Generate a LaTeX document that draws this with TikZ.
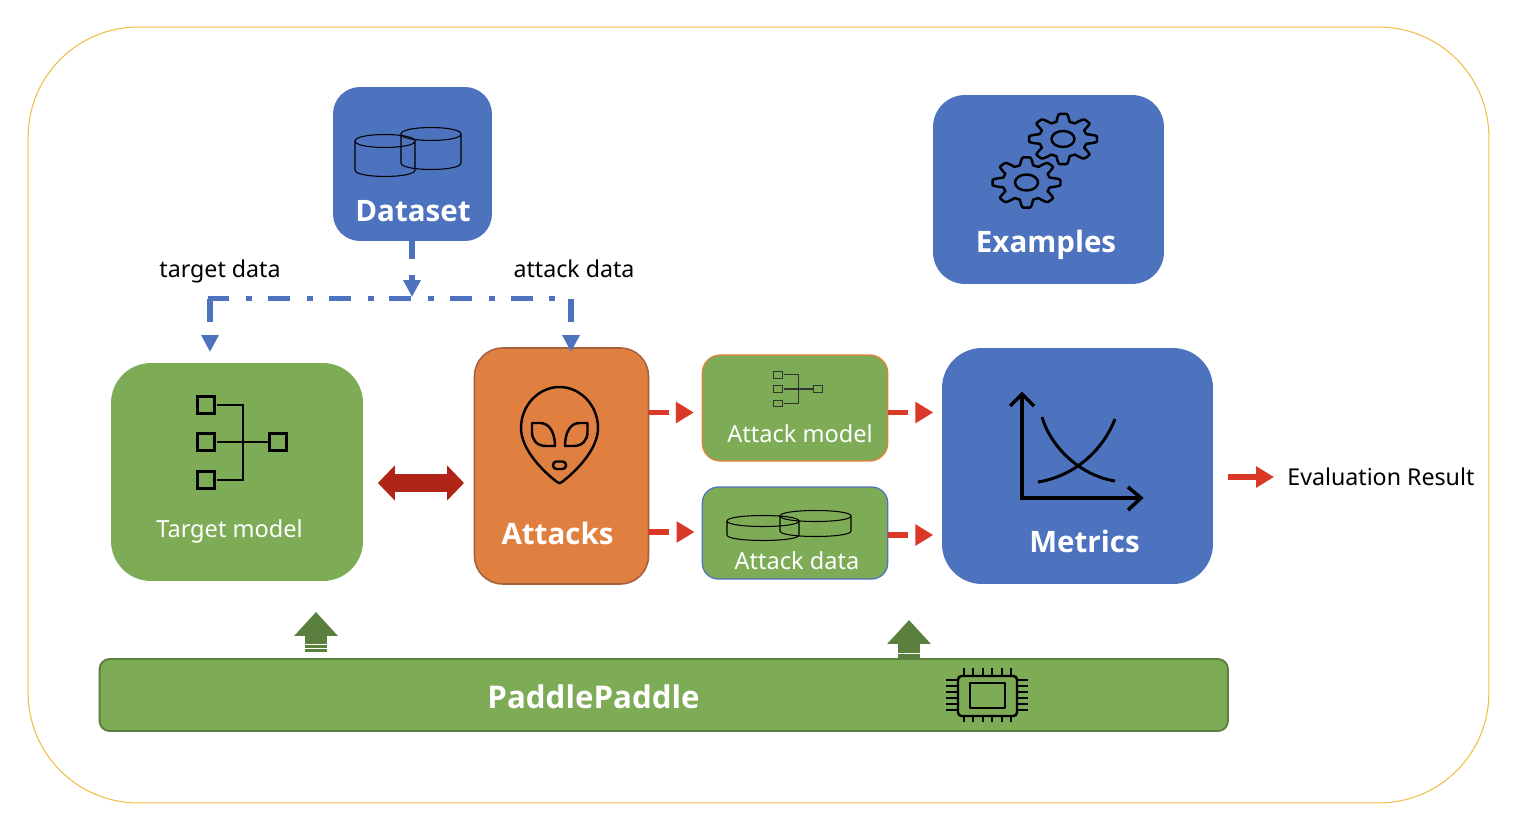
\documentclass[tikz,border=0pt]{standalone}
\usepackage{fontspec}
\setmainfont{Noto Sans}
\newfontfamily\headfont{Open Sans}
\usetikzlibrary{arrows.meta, positioning}
\definecolor{framecolor}{RGB}{240,190,70}
\definecolor{bluebox}{RGB}{77,114,190}
\definecolor{greenbox}{RGB}{126,171,85}
\definecolor{greenline}{RGB}{91,127,60}
\definecolor{orangebox}{RGB}{224,128,64}
\definecolor{orangeline}{RGB}{165,98,58}
\definecolor{flowred}{RGB}{217,57,38}
\definecolor{linkred}{RGB}{176,36,24}
% one drum: centre x, top y, half width, half height, depth
\newcommand{\drum}[5]{
    \draw[drumline] (#1-#3,#2) .. controls (#1-#3,#2+1.33*#4) and (#1+#3,#2+1.33*#4) .. (#1+#3,#2)
        .. controls (#1+#3,#2-1.33*#4) and (#1-#3,#2-1.33*#4) .. (#1-#3,#2) -- (#1-#3,#2+#5)
        .. controls (#1-#3,#2+#5+1.33*#4) and (#1+#3,#2+#5+1.33*#4) .. (#1+#3,#2+#5) -- (#1+#3,#2);
}
\tikzset{
    pics/treeicon/.style={code={
        \foreach \sx/\sy in {-36/-37, -36/0, -36/38, 36/0}
            \draw (\sx-8.5,\sy-8.5) rectangle (\sx+8.5,\sy+8.5);
        \draw (-25,-37) -- (1,-37) -- (1,38) -- (-25,38);
        \draw (-25,0) -- (26,0);
    }},
    pics/gearicon/.style={code={
        \draw[iconline] plot[domain=0:360, samples=193, smooth] ({(29+5*max(-1,min(1,1.7*cos(8*\x))))*cos(\x)}, {0.74*(29+5*max(-1,min(1,1.7*cos(8*\x))))*sin(\x)}) -- cycle;
        \draw[iconline] (0,0) ellipse [x radius=11.5, y radius=8];
    }}
}

\begin{document}
\begin{tikzpicture}[
    x=0.02cm, y=-0.02cm,
    box/.style={rounded corners=#1, inner sep=0pt, outer sep=0pt},
    bigtext/.style={text=white, font=\headfont\bfseries\fontsize{16.8}{20}\selectfont, inner sep=0pt},
    smalltext/.style={text=white, font=\fontsize{13.4}{16}\selectfont, inner sep=0pt},
    blacktext/.style={text=black, font=\fontsize{13.2}{16}\selectfont, inner sep=0pt},
    iconline/.style={draw=black, line width=1.4pt, line join=round},
    drumline/.style={draw=black, line width=0.6pt},
    blueflow/.style={draw=bluebox, line width=3pt, -{Triangle[length=9.6pt, width=9.4pt]}},
    redflow/.style={draw=flowred, line width=3.1pt, -{Triangle[length=10.2pt, width=11.6pt]}},
    greenflow/.style={draw=greenline, line width=12.4pt, -{Triangle[length=13.6pt, width=24pt]}}
]
    \useasboundingbox (0,0) rectangle (1520,824);

    % Frame
    \node[box=2.2cm, draw=framecolor, line width=0.6pt, minimum width=29.22cm, minimum height=15.52cm] (frame) at (758.5,415) {};

    % Blue boxes
    \node[box=0.54cm, fill=bluebox, minimum width=3.18cm, minimum height=3.08cm] (dataset) at (412.5,164) {};
    \node[box=0.64cm, fill=bluebox, minimum width=4.62cm, minimum height=3.78cm] (examples) at (1048.5,189.5) {};
    \node[box=0.8cm, fill=bluebox, minimum width=5.42cm, minimum height=4.72cm] (metrics) at (1077.5,466) {};

    % Models and attacks
    \node[box=0.8cm, fill=greenbox, minimum width=5.04cm, minimum height=4.36cm] (target) at (237,472) {};
    \node[box=0.56cm, fill=orangebox, draw=orangeline, line width=0.9pt, minimum width=3.48cm, minimum height=4.72cm] (attacks) at (561.5,466) {};
    \node[box=0.36cm, fill=greenbox, draw=orangebox, line width=0.7pt, minimum width=3.71cm, minimum height=2.12cm] (attackmodel) at (795,408) {};
    \node[box=0.32cm, fill=greenbox, draw=bluebox, line width=0.7pt, minimum width=3.71cm, minimum height=1.84cm] (attackdata) at (795,533) {};
    \node[box=0.2cm, fill=greenbox, draw=greenline, line width=1.1pt, minimum width=22.57cm, minimum height=1.44cm] (paddle) at (663.75,695) {};

    % Labels
    \node[bigtext] (datasetlabel) at (413,211) {Dataset};
    \node[bigtext] (exampleslabel) at (1046,245) {Examples};
    \node[bigtext] (attackslabel) at (557.5,533) {Attacks};
    \node[bigtext] (metricslabel) at (1084.5,541) {Metrics};
    \node[bigtext, font=\headfont\bfseries\fontsize{17.8}{20}\selectfont] (paddlelabel) at (593.5,697) {PaddlePaddle};
    \node[smalltext] (targetlabel) at (229.5,531) {Target model};
    \node[smalltext] (attackmodellabel) at (800,434) {Attack model};
    \node[smalltext] (attackdatalabel) at (797,561) {Attack data};
    \node[blacktext] (targetdata) at (220,271) {target data};
    \node[blacktext] (attackdataflow) at (574,269) {attack data};
    \node[blacktext, anchor=west] (result) at (1287,477) {Evaluation Result};

    % Icons
    \drum{385}{141}{30}{6.5}{29}
    \drum{431}{134}{30}{6.5}{29}
    \drum{763}{521}{36}{5.5}{14}
    \drum{815.5}{516}{35.5}{5.5}{15}
    \pic at (1063,139) {gearicon};
    \pic at (1026.5,182.5) {gearicon};
    \pic[draw=black, line width=1.5pt] at (242,442) {treeicon};
    \pic[draw=black!80, line width=0.6pt, xscale=0.56, yscale=0.38] at (798,389) {treeicon};

    % Alien
    \draw[iconline] (559.5,387) .. controls (580,387) and (598,405) .. (598,428)
        .. controls (598,450) and (575,472) .. (562,482) .. controls (560,483.5) and (559,483.5) .. (557,482)
        .. controls (544,472) and (521,450) .. (521,428) .. controls (521,405) and (539,387) .. (559.5,387) -- cycle;
    \draw[iconline] (532,423) -- (540,423) .. controls (549,423) and (555,432) .. (555,446) -- (546,446)
        .. controls (537,446) and (532,440) .. (532,432) -- cycle;
    \draw[iconline] (587.5,423) -- (579.5,423) .. controls (570.5,423) and (565,432) .. (565,446) -- (573.5,446)
        .. controls (582.5,446) and (587.5,440) .. (587.5,432) -- cycle;
    \draw[iconline, rounded corners=2pt] (553,461.5) rectangle (566,469);

    % Chart
    \draw[draw=black, line width=2pt] (1022,394) -- (1022,498) -- (1140,498);
    \draw[draw=black, line width=2pt] (1010,406) -- (1022,394) -- (1034,406);
    \draw[draw=black, line width=2pt] (1128,487) -- (1141,498) -- (1128,510);
    \draw[draw=black, line width=1.7pt] (1042,417) .. controls (1050,445) and (1078,475) .. (1115,481);
    \draw[draw=black, line width=1.7pt] (1038,482) .. controls (1075,476) and (1103,450) .. (1115,419);

    % Chip
    \draw[iconline, rounded corners=2pt] (958,676) rectangle (1017,716);
    \draw[iconline] (970,683) rectangle (1005,708);
    \foreach \pinx in {964,973.4,982.8,992.2,1001.6,1011}
        \draw[draw=black, line width=1.1pt] (\pinx,668) -- (\pinx,676) (\pinx,716) -- (\pinx,722);
    \foreach \piny in {680,686,692,698,704,710}
        \draw[draw=black, line width=1.1pt] (946,\piny) -- (958,\piny) (1017,\piny) -- (1028,\piny);

    % Data flow
    \coordinate (split) at (412,297);
    \coordinate (splitleft) at (210,298.5);
    \coordinate (splitright) at (571,298.5);
    \coordinate (targetin) at (210,352);
    \coordinate (attackin) at (571,352);
    \draw[blueflow, dash pattern=on 10.2pt off 9pt] (dataset.south -| split) -- (split);
    \draw[draw=bluebox, line width=3pt, dash pattern=on 12.5pt off 9.6pt on 3.4pt off 9pt] (207.5,298.5) -- (splitright);
    \draw[blueflow, dash pattern=on 13.6pt off 20pt] (splitleft) -- (targetin);
    \draw[blueflow, dash pattern=on 13.6pt off 20pt] (splitright) -- (attackin);

    % Attack flow
    \coordinate (modelrow) at (0,412.5);
    \coordinate (datarow) at (0,532);
    \coordinate (datarowout) at (0,535);
    \coordinate (linkrow) at (0,483);
    \draw[redflow, shorten >=4.8pt, dash pattern=on 11.4pt off 10pt] (attacks.east |- modelrow) -- (attackmodel.west |- modelrow);
    \draw[redflow, shorten >=4.4pt, dash pattern=on 11.4pt off 10pt] (attacks.east |- datarow) -- (attackdata.west |- datarow);
    \draw[redflow, shorten >=5pt, dash pattern=on 11.4pt off 10pt] (attackmodel.east |- modelrow) -- (metrics.west |- modelrow);
    \draw[redflow, shorten >=5pt, dash pattern=on 11.8pt off 10pt] (attackdata.east |- datarowout) -- (metrics.west |- datarowout);
    \draw[redflow, shorten <=8.5pt, shorten >=7.4pt] (metrics.east |- result) -- (result.west);
    \draw[draw=linkred, line width=10.2pt, {Triangle[length=9.6pt, width=19.4pt]}-{Triangle[length=9.6pt, width=19.4pt]}, shorten <=8.5pt, shorten >=6pt] (target.east |- linkrow) -- (attacks.west |- linkrow);

    % Platform
    \coordinate (targetup) at (316,612);
    \coordinate (dataup) at (909,620);
    \draw[greenflow, shorten <=4pt, dash pattern=on 1.7pt off 0.7pt on 1.7pt off 0.7pt on 20pt] (paddle.north -| targetup) -- (targetup);
    \draw[greenflow, dash pattern=on 3pt off 0.7pt on 20pt] (paddle.north -| dataup) -- (dataup);
\end{tikzpicture}
\end{document}
